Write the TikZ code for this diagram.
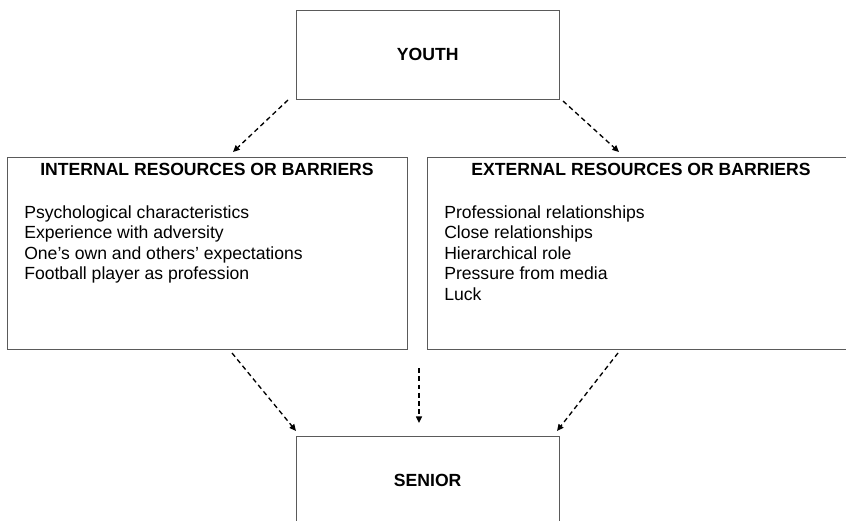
\documentclass[tikz,border=0pt]{standalone}
\usepackage{fontspec}
\setmainfont{Liberation Sans}
\usetikzlibrary{arrows.meta}
\definecolor{framegray}{HTML}{5A5A5A}
\begin{document}
\begin{tikzpicture}[x=0.75pt,y=-0.75pt,
  frame/.style={draw=framegray, line width=0.75pt, rectangle, inner sep=0pt, anchor=north west},
  stagebox/.style={frame, minimum width=197.25pt, minimum height=66.5pt,
    font=\fontsize{13.2pt}{15.5pt}\selectfont\bfseries},
  heading/.style={anchor=base, inner sep=0pt, font=\fontsize{13.2pt}{15.5pt}\selectfont\bfseries},
  item/.style={anchor=base west, inner sep=0pt, font=\fontsize{13.2pt}{15.5pt}\selectfont},
  flow/.style={draw=black, line width=1pt, dash pattern=on 3.6pt off 2.6pt,
    -{Triangle[length=5pt,width=4.5pt]}}]
  \useasboundingbox (0,0) rectangle (846,521);
  \clip (0,0) rectangle (846,521);

  % stages
  \node[stagebox] (youth) at (295.7,10) {YOUTH};
  \node[stagebox] (senior) at (295.7,435.7) {SENIOR};

  % resource panels
  \node[frame, minimum width=300pt, minimum height=144.5pt] (internal) at (7,156.7) {};
  \node[frame, minimum width=320pt, minimum height=144.5pt] (external) at (427.3,156.7) {};

  \node[heading] (inthead) at (207,175) {INTERNAL RESOURCES OR BARRIERS};
  \node[heading] (exthead) at (641,175) {EXTERNAL RESOURCES OR BARRIERS};

  \node[item] (i1) at (24,218) {Psychological characteristics};
  \node[item] (i2) at (24,238.5) {Experience with adversity};
  \node[item] (i3) at (24,259) {One’s own and others’ expectations};
  \node[item] (i4) at (24,279.5) {Football player as profession};

  \node[item] (e1) at (444,218) {Professional relationships};
  \node[item] (e2) at (444,238.5) {Close relationships};
  \node[item] (e3) at (444,259) {Hierarchical role};
  \node[item] (e4) at (444,279.5) {Pressure from media};
  \node[item] (e5) at (444,300) {Luck};

  % connector end points
  \coordinate (ya) at (288,100);
  \coordinate (ia) at (233,152);
  \coordinate (yb) at (563,101);
  \coordinate (eb) at (619,152);
  \coordinate (ic) at (232,353);
  \coordinate (sc) at (296,431);
  \coordinate (md) at (419,368);
  \coordinate (sd) at (419,423);
  \coordinate (ee) at (618,353);
  \coordinate (se) at (557,431);

  \draw[flow] (ya) -- (ia);
  \draw[flow] (yb) -- (eb);
  \draw[flow] (ic) -- (sc);
  \draw[flow] (md) -- (sd);
  \draw[flow] (ee) -- (se);
\end{tikzpicture}
\end{document}
